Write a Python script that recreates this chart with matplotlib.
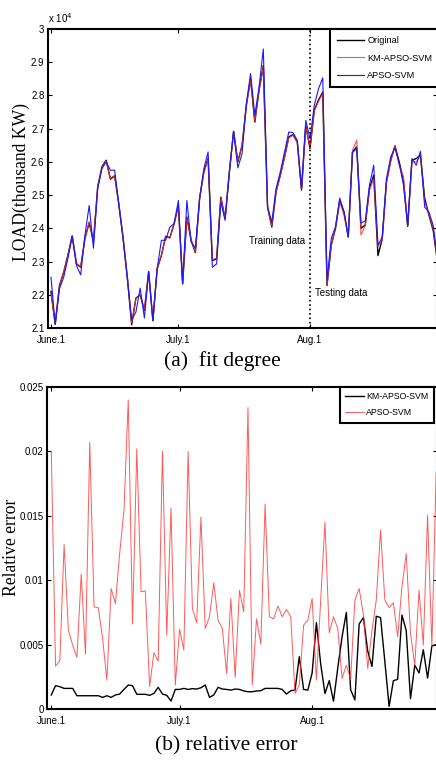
import numpy as np
import matplotlib
matplotlib.use("Agg")
import matplotlib.pyplot as plt

plt.rcParams['font.family'] = ['Liberation Sans', 'DejaVu Sans']

# ---- data: daily load, June 1 .. Aug 31 (KW) ----
original = [22100, 21110, 22280, 22680, 23200, 23770, 22930, 22830, 23700, 24170,
            23600, 25250, 25850, 26050, 25480, 25580, 24700, 23700, 22500, 21100,
            21900, 22000, 21530, 22700, 21220, 22780, 23180, 23760, 23720, 24140,
            24690, 22330, 24340, 23640, 23270, 24900, 25700, 26100, 23030, 23080,
            24940, 24290, 25700, 26920, 26000, 26500, 27700, 28500, 27200, 28160,
            28900, 24640, 24040, 25100, 25600, 26150, 26750, 26820, 26600, 25150,
            27100, 26400, 27560, 27860, 28100, 22280, 23500, 24000, 24840, 24490,
            23740, 26300, 26450, 24000, 24100, 25200, 25600, 23180, 23680, 25400,
            26050, 26480, 26000, 25450, 24060, 26050, 26100, 26200, 24900, 24400,
            23940, 23000]
km_apso_svm = [22050, 21150, 22250, 22700, 23180, 23750, 22950, 22850, 23680, 24200,
               23620, 25230, 25820, 26030, 25500, 25600, 24720, 23720, 22520, 21150,
               21880, 22020, 21560, 22680, 21250, 22760, 23200, 23740, 23700, 24160,
               24670, 22360, 24320, 23660, 23290, 24880, 25680, 26080, 23060, 23100,
               24920, 24310, 25680, 26900, 26020, 26480, 27680, 28460, 27230, 28140,
               28860, 24660, 24060, 25080, 25580, 26130, 26720, 26800, 26580, 25170,
               27080, 26420, 27530, 27820, 28060, 22300, 23480, 24020, 24800, 24400,
               23760, 26350, 26650, 23800, 24080, 25150, 25500, 23450, 23650, 25380,
               26000, 26500, 25900, 25550, 24080, 26000, 26000, 26180, 24800, 24420,
               23990, 23050]
apso_svm = [22530, 21110, 22180, 22530, 23100, 23770, 22880, 22600, 23800, 24690,
            23400, 25200, 25800, 26000, 25750, 25750, 24700, 23650, 22450, 21250,
            21480, 22200, 21300, 22680, 21220, 22780, 23640, 23640, 24040, 24140,
            24840, 22330, 24840, 23590, 23410, 24900, 25800, 26300, 22830, 22930,
            24790, 24240, 25650, 26920, 25820, 26250, 27750, 28660, 27400, 28260,
            29400, 24640, 24190, 25200, 25700, 26300, 26900, 26880, 26650, 25200,
            27250, 26700, 27700, 28200, 28530, 22430, 23700, 24050, 24910, 24490,
            23740, 26280, 26400, 24160, 24220, 25300, 25900, 23500, 23730, 25500,
            26150, 26420, 25950, 25300, 24090, 26100, 25900, 26320, 24640, 24490,
            24090, 23100]

# ---- relative error ----
err_km = [0.00109, 0.00181, 0.00173, 0.0016, 0.0016, 0.0016, 0.00103, 0.00103, 0.00103, 0.00103,
          0.00103, 0.00103, 0.0009, 0.00103, 0.0009, 0.00109, 0.00116, 0.00152, 0.00186, 0.00181,
          0.00114, 0.00114, 0.00114, 0.00106, 0.00121, 0.00168, 0.00116, 0.00106, 0.00062, 0.00152,
          0.00152, 0.0016, 0.00152, 0.00158, 0.00155, 0.00165, 0.00186, 0.0009, 0.00109, 0.00168,
          0.00155, 0.00152, 0.00147, 0.00155, 0.00152, 0.0014, 0.00134, 0.00134, 0.0014, 0.00142,
          0.0016, 0.0016, 0.0016, 0.0016, 0.00152, 0.00116, 0.00142, 0.00147, 0.00406, 0.00152,
          0.00147, 0.0028, 0.0067, 0.0035, 0.0012, 0.0022, 0.0006, 0.0032, 0.0056, 0.0075,
          0.0015, 0.0007, 0.0066, 0.0071, 0.0045, 0.0033, 0.0072, 0.0071, 0.0037, 0.0002,
          0.0022, 0.0023, 0.0073, 0.0061, 0.0008, 0.0034, 0.0028, 0.0046, 0.0024, 0.0049,
          0.0050]
err_apso = [0.0200, 0.00333, 0.00375, 0.01277, 0.00612, 0.00496, 0.0040, 0.01047, 0.00426, 0.0207,
            0.00793, 0.00786, 0.00548, 0.00225, 0.00935, 0.00819, 0.0121, 0.01543, 0.0240, 0.00659,
            0.0202, 0.0091, 0.00917, 0.00173, 0.00437, 0.00372, 0.0200, 0.00574, 0.0156, 0.00186,
            0.0062, 0.00457, 0.0200, 0.0078, 0.0067, 0.0149, 0.00625, 0.00716, 0.0098, 0.0069,
            0.00625, 0.00276, 0.00858, 0.00245, 0.00922, 0.00754, 0.0234, 0.00186, 0.0070, 0.00504,
            0.0159, 0.00716, 0.0070, 0.0080, 0.00716, 0.00773, 0.00716, 0.00121, 0.00186, 0.0065,
            0.0069, 0.00858, 0.00225, 0.00845, 0.0145, 0.00592, 0.00716, 0.00625, 0.00238, 0.00341,
            0.0023, 0.00845, 0.00935, 0.00729, 0.00315, 0.00612, 0.00845, 0.01388, 0.00845, 0.00788,
            0.00824, 0.00561, 0.00948, 0.01207, 0.00587, 0.00341, 0.00922, 0.00496, 0.01504, 0.00483,
            0.0184]

date_ticks = [0, 30, 61]
date_labels = ['June.1', 'July.1', 'Aug.1']
split_day = 61

days_a = np.arange(len(original))
days_b = np.arange(len(err_km))

W, H = 436, 760
fig = plt.figure(figsize=(W / 100, H / 100), dpi=100)


def px_axes(left, top, right, bottom):
    return fig.add_axes([left / W, 1 - bottom / H, (right - left) / W, (bottom - top) / H])


def style_axes(ax):
    for s in ax.spines.values():
        s.set_linewidth(1.5)
    ax.tick_params(direction='in', top=True, right=True, length=3, width=0.8,
                   labelsize=7, colors='black')
    ax.tick_params(axis='x', pad=5)
    ax.tick_params(axis='y', pad=2.5)


serif = ['Liberation Serif', 'DejaVu Serif']

# ---- (a) fit degree ----
ax1 = px_axes(48, 29, 437, 328)
ax1.plot(days_a, original, color='black', lw=1.0, label='Original')
ax1.plot(days_a, km_apso_svm, color='#ff3030', lw=0.8, alpha=0.85, label='KM-APSO-SVM')
ax1.plot(days_a, apso_svm, color='#1a1aff', lw=0.8, label='APSO-SVM')
ax1.axvline(split_day, color='black', ls=':', lw=1.2)
ax1.set_xlim(-0.7, 90.9)
ax1.set_ylim(21000, 30000)
yt = np.arange(21000, 30001, 1000)
ax1.set_yticks(yt)
ax1.set_yticklabels([f"{v / 1e4:g}" for v in yt])
ax1.set_xticks(date_ticks)
ax1.set_xticklabels(date_labels)
style_axes(ax1)
ax1.text(46.6, 23618, 'Training data', fontsize=7, va='center', ha='left')
ax1.text(62.2, 22053, 'Testing data', fontsize=7, va='center', ha='left')
leg1 = ax1.legend(loc='upper left', bbox_to_anchor=(330 / W, 1 - 29 / H),
                  bbox_transform=fig.transFigure, borderaxespad=0, fancybox=False,
                  framealpha=1, edgecolor='black', fontsize=6.6, handlelength=3.0,
                  handletextpad=0.3, labelspacing=0.95, borderpad=0.75)
leg1.get_frame().set_linewidth(1.5)
fig.text(48 / W, 1 - 18 / H, r'x 10$^{4}$', fontsize=7, va='center', ha='left')
fig.text(21 / W, 1 - 182 / H, 'LOAD(thousand KW)', family=serif, fontsize=12.7,
         rotation=90, va='center', ha='center')
fig.text(222 / W, 1 - 361 / H, '(a)  fit degree', family=serif, fontsize=15.5,
         va='center', ha='center')

# ---- (b) relative error ----
ax2 = px_axes(47, 387, 437, 709)
ax2.plot(days_b, err_km, color='black', lw=1.0, label='KM-APSO-SVM')
ax2.plot(days_b, err_apso, color='#ff3030', lw=0.7, alpha=0.8, label='APSO-SVM')
ax2.set_xlim(-1.0, 90.2)
ax2.set_ylim(0, 0.025)
yt2 = [0, 0.005, 0.01, 0.015, 0.02, 0.025]
ax2.set_yticks(yt2)
ax2.set_yticklabels(['0', '0.005', '0.01', '0.015', '0.02', '0.025'])
ax2.set_xticks(date_ticks)
ax2.set_xticklabels(date_labels)
style_axes(ax2)
leg2 = ax2.legend(loc='upper left', bbox_to_anchor=(340 / W, 1 - 387 / H),
                  bbox_transform=fig.transFigure, borderaxespad=0, fancybox=False,
                  framealpha=1, edgecolor='black', fontsize=6.3, handlelength=2.1,
                  handletextpad=0.3, labelspacing=0.8, borderpad=0.6)
leg2.get_frame().set_linewidth(1.5)
fig.text(12 / W, 1 - 547 / H, 'Relative error', family=serif, fontsize=12.7,
         rotation=90, va='center', ha='center')
fig.text(226 / W, 1 - 746 / H, '(b) relative error', family=serif, fontsize=15.5,
         va='center', ha='center')

fig.savefig('out.png', dpi=100)
